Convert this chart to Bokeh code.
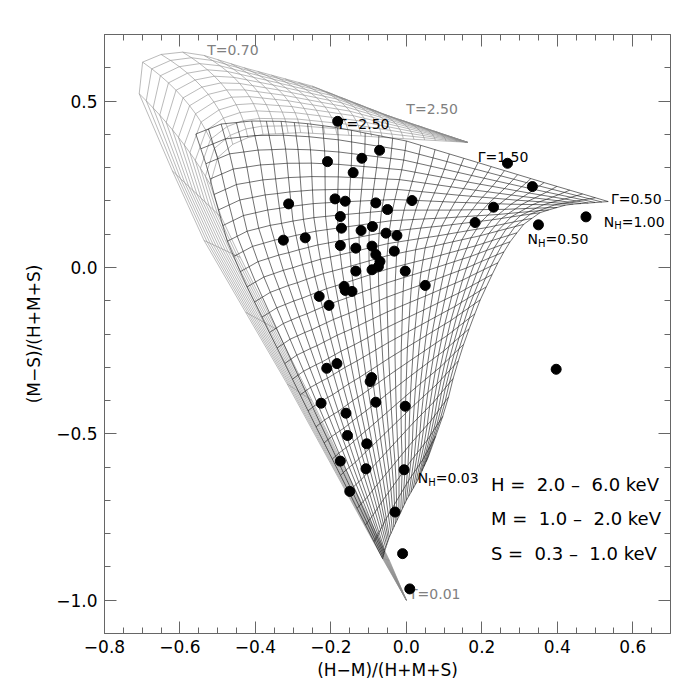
import numpy as np
from bokeh.plotting import figure
from bokeh.models import Range1d, LinearAxis, FixedTicker, CustomJSTickFormatter
from bokeh.core.properties import value
from bokeh.embed import file_html
from bokeh.resources import INLINE

FONT = "DejaVu Sans"

# ---------------- data points: (H-M)/(H+M+S) , (M-S)/(H+M+S) ----------------
hr_x = [-0.182, -0.071, -0.209, -0.118, -0.141, -0.312, -0.189, -0.162, -0.081, 0.015,
        -0.050, -0.175, -0.172, -0.120, -0.090, -0.054, -0.025, -0.326, -0.268, -0.175,
        -0.134, -0.091, -0.032, -0.081, -0.070, -0.074, -0.091, -0.134, -0.003, 0.050,
        -0.165, -0.162, -0.144, -0.231, -0.205, 0.268, 0.334, 0.231, 0.182, 0.350,
        0.476, 0.397, -0.211, -0.184, -0.092, -0.096, -0.226, -0.081, -0.003, -0.160,
        -0.156, -0.105, -0.175, -0.107, -0.006, -0.150, -0.030, -0.010, 0.009]
hr_y = [0.439, 0.352, 0.318, 0.328, 0.285, 0.191, 0.206, 0.199, 0.194, 0.201,
        0.174, 0.153, 0.118, 0.111, 0.123, 0.103, 0.096, 0.082, 0.089, 0.066,
        0.058, 0.064, 0.049, 0.039, 0.018, 0.003, -0.007, -0.011, -0.011, -0.054,
        -0.057, -0.069, -0.072, -0.087, -0.114, 0.313, 0.243, 0.181, 0.135, 0.128,
        0.152, -0.306, -0.303, -0.289, -0.331, -0.343, -0.408, -0.405, -0.417, -0.438,
        -0.505, -0.530, -0.582, -0.605, -0.608, -0.673, -0.735, -0.860, -0.966]

# ---------------- power-law grid (black): boundary curves ----------------
pl_gamma = [0.5, 0.6, 0.7, 0.8, 0.9, 1.0, 1.1, 1.2, 1.3, 1.4, 1.5, 1.6, 1.7, 1.8, 1.9, 2.0,
            2.1, 2.2, 2.3, 2.4, 2.5, 2.6, 2.7, 2.8, 2.9, 3.0, 3.1, 3.2, 3.3, 3.4, 3.5]
pl_n_nh = 28
# low-NH edge (NH=0.03), marked by Gamma
pl_bot_g = [0.5, 1.0, 1.5, 2.0, 2.5, 3.0, 3.5]
pl_bot_x = [0.058, 0.030, 0.000, -0.025, -0.045, -0.057, -0.063]
pl_bot_y = [-0.570, -0.640, -0.700, -0.760, -0.810, -0.850, -0.875]
# high-NH edge (NH=1.00), marked by Gamma
pl_top_g = [0.5, 1.0, 1.5, 2.0, 2.5, 2.7, 2.9, 3.1, 3.3, 3.5]
pl_top_x = [0.535, 0.365, 0.190, 0.000, -0.182, -0.262, -0.332, -0.410, -0.491, -0.558]
pl_top_y = [0.198, 0.255, 0.315, 0.380, 0.420, 0.432, 0.439, 0.440, 0.431, 0.401]
# Gamma=0.5 edge, low NH -> high NH
pl_right_x = [0.058, 0.080, 0.105, 0.127, 0.149, 0.171, 0.197, 0.224, 0.250, 0.277, 0.312, 0.356, 0.427, 0.535]
pl_right_y = [-0.570, -0.500, -0.420, -0.320, -0.240, -0.170, -0.094, -0.029, 0.031, 0.081, 0.131, 0.166, 0.189, 0.198]
# Gamma=3.5 edge, low NH -> high NH
pl_left_x = [-0.063, -0.150, -0.250, -0.350, -0.430, -0.475, -0.505, -0.527, -0.558]
pl_left_y = [-0.875, -0.680, -0.455, -0.225, -0.040, 0.080, 0.200, 0.297, 0.401]

# ---------------- thermal grid (grey): outer and inner NH curves marked by T ----------------
th_t = [0.01, 0.05, 0.1, 0.2, 0.25, 0.3, 0.4, 0.5, 0.6, 0.7, 1.0, 1.5, 2.0, 2.5]
th_out_x = [0.000, -0.063, -0.316, -0.536, -0.620, -0.708, -0.699, -0.650, -0.593, -0.536, -0.430, -0.250, -0.060, 0.162]
th_out_y = [-1.000, -0.875, -0.350, 0.081, 0.290, 0.522, 0.617, 0.640, 0.647, 0.637, 0.600, 0.545, 0.460, 0.376]
th_in_x = [0.000, -0.045, -0.250, -0.440, -0.490, -0.520, -0.500, -0.460, -0.420, -0.380, -0.280, -0.120, 0.020, 0.162]
th_in_y = [-1.000, -0.880, -0.400, 0.030, 0.150, 0.250, 0.330, 0.370, 0.390, 0.400, 0.405, 0.395, 0.385, 0.376]
th_bulge = [0.0, 0.0, 0.0, 0.0, 0.0, 0.01, 0.025, 0.03, 0.03, 0.03, 0.03, 0.025, 0.015, 0.0]
th_t_lines = [0.01, 0.05, 0.1, 0.15, 0.2, 0.25, 0.3, 0.4, 0.5, 0.6, 0.7, 0.8, 0.9, 1.0, 1.1, 1.2, 1.3,
              1.4, 1.5, 1.6, 1.7, 1.8, 1.9, 2.0, 2.1, 2.2, 2.3, 2.4, 2.5]
th_n_nh = 13

# ---------------- axis ticks ----------------
x_major = [-0.8, -0.6, -0.4, -0.2, 0.0, 0.2, 0.4, 0.6]
y_major = [-1.0, -0.5, 0.0, 0.5]

XS, YS = 377.5, 332.8  # px per data unit, for arclength


def arc_interp(xs, ys, f):
    xs = np.asarray(xs); ys = np.asarray(ys)
    d = np.hypot(np.diff(xs) * XS, np.diff(ys) * YS)
    s = np.concatenate([[0], np.cumsum(d)]) / d.sum()
    return np.interp(f, s, xs), np.interp(f, s, ys)


def warp(t, b):
    return (1 - np.exp(-b * t)) / (1 - np.exp(-b))


# black grid via transfinite interpolation of the four edges
g = np.array(pl_gamma)
t = np.linspace(0, 1, pl_n_nh)
bx, by = np.interp(g, pl_bot_g, pl_bot_x), np.interp(g, pl_bot_g, pl_bot_y)
tx, ty = np.interp(g, pl_top_g, pl_top_x), np.interp(g, pl_top_g, pl_top_y)
rx, ry = arc_interp(pl_right_x, pl_right_y, warp(t, 1.3))
lx, ly = arc_interp(pl_left_x, pl_left_y, warp(t, 0.2))
w = (g - 0.5) / 3.0
W = w[:, None]
V = t[None, :] ** (1.0 + 0.6 * W)
R0 = (pl_right_x[0], pl_right_y[0]); R1 = (pl_right_x[-1], pl_right_y[-1])
L0 = (pl_left_x[0], pl_left_y[0]); L1 = (pl_left_x[-1], pl_left_y[-1])
GX = ((1 - V) * bx[:, None] + V * tx[:, None] + (1 - W) * rx[None, :] + W * lx[None, :]
      - ((1 - W) * (1 - V) * R0[0] + W * (1 - V) * L0[0] + (1 - W) * V * R1[0] + W * V * L1[0]))
GY = ((1 - V) * by[:, None] + V * ty[:, None] + (1 - W) * ry[None, :] + W * ly[None, :]
      - ((1 - W) * (1 - V) * R0[1] + W * (1 - V) * L0[1] + (1 - W) * V * R1[1] + W * V * L1[1]))
pl_xs = [list(GX[i, :]) for i in range(GX.shape[0])] + [list(GX[:, j]) for j in range(GX.shape[1])]
pl_ys = [list(GY[i, :]) for i in range(GY.shape[0])] + [list(GY[:, j]) for j in range(GY.shape[1])]

# grey grid
T = np.array(th_t_lines)
ox, oy = np.interp(T, th_t, th_out_x), np.interp(T, th_t, th_out_y)
ix, iy = np.interp(T, th_t, th_in_x), np.interp(T, th_t, th_in_y)
bl = np.interp(T, th_t, th_bulge)
sk = np.linspace(0, 1, th_n_nh)[None, :]
HX = (1 - sk) * ox[:, None] + sk * ix[:, None] + 4 * sk * (1 - sk) * bl[:, None]
HY = (1 - sk) * oy[:, None] + sk * iy[:, None] + 4 * sk * (1 - sk) * 0.5 * bl[:, None]
th_xs = [list(HX[i, :]) for i in range(HX.shape[0])] + [list(HX[:, j]) for j in range(HX.shape[1])]
th_ys = [list(HY[i, :]) for i in range(HY.shape[0])] + [list(HY[:, j]) for j in range(HY.shape[1])]

# ---------------- figure ----------------
p = figure(width=690, height=690, x_range=Range1d(-0.8, 0.7), y_range=Range1d(-1.1, 0.7),
           output_backend="svg", toolbar_location=None,
           min_border_left=104, min_border_right=20, min_border_top=34, min_border_bottom=57)
p.grid.visible = False
p.outline_line_color = None
p.background_fill_color = "white"

AXC = "#666666"


def style_axis(ax, ticks, minor, labels=True):
    ax.ticker = FixedTicker(ticks=ticks, minor_ticks=minor)
    ax.axis_line_color = AXC
    ax.major_tick_line_color = AXC
    ax.minor_tick_line_color = AXC
    ax.major_tick_in = 12
    ax.major_tick_out = 0
    ax.minor_tick_in = 6
    ax.minor_tick_out = 0
    ax.major_label_text_font = FONT
    ax.major_label_text_color = "black"
    if labels:
        ax.formatter = CustomJSTickFormatter(code="return tick.toFixed(1).replace('-', '\\u2212');")
        ax.major_label_text_font_size = "17px"
    else:
        ax.formatter = CustomJSTickFormatter(code="return '';")
        ax.major_label_text_font_size = "0px"
        ax.major_label_standoff = 0


x_minor = [round(-0.8 + 0.05 * k, 2) for k in range(31)]
y_minor = [round(-1.1 + 0.1 * k, 1) for k in range(19)]

style_axis(p.xaxis[0], x_major, x_minor)
style_axis(p.yaxis[0], y_major, y_minor)
p.xaxis[0].major_label_standoff = 6
p.yaxis[0].major_label_standoff = 7
p.xaxis[0].axis_label = "(H\u2212M)/(H+M+S)"
p.yaxis[0].axis_label = "(M\u2212S)/(H+M+S)"
for ax in (p.xaxis[0], p.yaxis[0]):
    ax.axis_label_text_font = FONT
    ax.axis_label_text_font_style = "normal"
    ax.axis_label_text_font_size = "17px"
    ax.axis_label_text_color = "black"
p.xaxis[0].axis_label_standoff = 4
p.yaxis[0].axis_label_standoff = 9

top = LinearAxis()
right = LinearAxis()
style_axis(top, x_major, x_minor, labels=False)
style_axis(right, y_major, y_minor, labels=False)
p.add_layout(top, "above")
p.add_layout(right, "right")

# grids
p.multi_line(th_xs, th_ys, line_color="#8c8c8c", line_width=0.6)
p.multi_line(pl_xs, pl_ys, line_color="#111111", line_width=0.6)

GREY = "#808080"


def txt(x, y, s, color="black", size=14, xo=0, yo=0):
    p.text(x=[x], y=[y], text=[s], text_font=value(FONT), text_font_size=f"{size}px",
           text_color=color, text_align="left", text_baseline="middle", x_offset=xo, y_offset=yo)


def nh_label(x, y, num):
    txt(x, y, "N")
    txt(x, y, "H", size=10, xo=10.5, yo=4)
    txt(x, y, "=" + num, xo=18)


txt(-0.528, 0.652, "T=0.70", GREY)
txt(0.000, 0.475, "T=2.50", GREY)
txt(0.007, -0.980, "T=0.01", GREY)
txt(-0.179, 0.430, "\u0393=2.50")
txt(0.189, 0.332, "\u0393=1.50")
txt(0.542, 0.207, "\u0393=0.50")
nh_label(0.523, 0.137, "1.00")
nh_label(0.321, 0.084, "0.50")
nh_label(0.030, -0.633, "0.03")

band_lines = ["H =\u00a0 2.0 \u2013\u00a0 6.0 keV", "M =\u00a0 1.0 \u2013\u00a0 2.0 keV", "S =\u00a0 0.3 \u2013\u00a0 1.0 keV"]
band_y = [-0.652, -0.754, -0.860]
for s_, yy in zip(band_lines, band_y):
    txt(0.224, yy, s_, size=18)

p.scatter(hr_x, hr_y, size=10, color="black")

open("out.html", "w").write(file_html(p, INLINE))
